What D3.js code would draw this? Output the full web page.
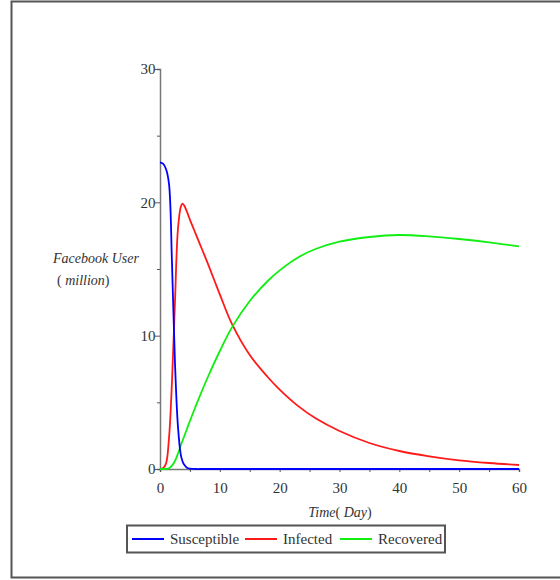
<!DOCTYPE html>
<meta charset="utf-8">
<style>
  html, body { margin: 0; background: #fff; overflow: hidden; }
  svg { display: block; }
  text { font-family: "Liberation Serif", "DejaVu Serif", serif; fill: #333; }
</style>
<svg width="560" height="580"></svg>
<script src="https://d3js.org/d3.v7.min.js"></script>
<script>

// time in days
var days = [0, 0.5, 1, 1.5, 2, 2.5, 3, 3.5, 3.75, 4, 4.5, 5, 6, 7, 8, 10, 12, 15, 18, 20, 23, 26, 30, 35, 40, 45, 50, 55, 60]

// million users
var susceptible = [23.0, 22.9, 22.5, 21.4, 15.5, 8.0, 3.2, 1.0, 0.6, 0.35, 0.1, 0.03, 0, 0, 0, 0, 0, 0, 0, 0, 0, 0, 0, 0, 0, 0, 0, 0, 0]
var infected    = [0, 0.05, 0.4, 2.3, 6.5, 12.5, 18.0, 19.7, 19.9, 19.8, 19.3, 18.7, 17.6, 16.5, 15.4, 13.1, 10.9, 8.55, 6.9, 5.95, 4.75, 3.8, 2.85, 1.95, 1.35, 0.95, 0.65, 0.45, 0.3]
var recovered   = [0, 0, 0, 0.05, 0.25, 0.6, 1.15, 1.8, 2.1, 2.4, 3.0, 3.6, 4.75, 5.85, 6.9, 8.85, 10.6, 12.6, 14.1, 14.9, 15.85, 16.5, 17.05, 17.4, 17.55, 17.45, 17.25, 17.0, 16.7]

var seriesNames = ['Susceptible', 'Infected', 'Recovered']
var seriesColors = ['#0000ff', '#ff1a1a', '#11ee11']

var svg = d3.select('svg')

// outer frame: top, left and bottom edges only
svg.append('path')
  .attr('d', 'M560,1.5H11.5V577.5H560')
  .attr('fill', 'none')
  .attr('stroke', '#555')
  .attr('stroke-width', 2)

var x = d3.scaleLinear().domain([0, 60]).range([160, 519])
var y = d3.scaleLinear().domain([0, 30]).range([469, 69])

// axes
var xAxis = svg.append('g')
  .attr('transform', 'translate(0,' + y(0) + ')')
  .call(d3.axisBottom(x).tickValues(d3.range(0, 61, 5)).tickSize(3)
    .tickFormat(function (d) { return d % 10 === 0 ? d : '' }))
var yAxis = svg.append('g')
  .attr('transform', 'translate(' + x(0) + ',0)')
  .call(d3.axisLeft(y).tickValues(d3.range(0, 31, 5)).tickSize(3)
    .tickFormat(function (d) { return d % 10 === 0 ? d : '' }))

;[xAxis, yAxis].forEach(function (a) {
  a.select('.domain').attr('stroke', '#777').attr('stroke-width', 1.5)
  a.selectAll('.tick line').attr('stroke', '#555')
  a.selectAll('text')
    .style('font-family', '"Liberation Serif", serif')
    .style('font-size', '15px')
    .attr('fill', '#333')
})
xAxis.selectAll('text').attr('dy', '1.2em')
yAxis.selectAll('.tick line').attr('x2', function (d) { return d % 10 === 0 ? -5 : -3 })
yAxis.selectAll('text').attr('dx', '0.1em')

// axis titles
var xt = svg.append('text')
  .attr('x', 340).attr('y', 517)
  .attr('text-anchor', 'middle')
  .style('font-size', '14px')
  .style('font-style', 'italic')
xt.append('tspan').text('Time')
xt.append('tspan').style('font-style', 'normal').text('( ')
xt.append('tspan').text('Day')
xt.append('tspan').style('font-style', 'normal').text(')')

svg.append('text')
  .attr('x', 53).attr('y', 263)
  .style('font-size', '14px')
  .style('font-style', 'italic')
  .text('Facebook User')
var yt = svg.append('text')
  .attr('x', 57).attr('y', 285)
  .style('font-size', '14px')
yt.append('tspan').text('( ')
yt.append('tspan').style('font-style', 'italic').text('million')
yt.append('tspan').text(')')

// curves
var allSeries = [susceptible, infected, recovered]
var line = d3.line()
  .x(function (d, i) { return x(days[i]) })
  .y(function (d) { return Math.min(y(d), y(0)) })
  .curve(d3.curveCatmullRom.alpha(0.5))

;[1, 2, 0].forEach(function (k) {
  svg.append('path')
    .datum(allSeries[k])
    .attr('d', line)
    .attr('fill', 'none')
    .attr('stroke', seriesColors[k])
    .attr('stroke-width', 1.8)
})

// legend
svg.append('rect')
  .attr('x', 127).attr('y', 525.5)
  .attr('width', 318).attr('height', 27)
  .attr('fill', '#fff')
  .attr('stroke', '#555')
  .attr('stroke-width', 2)

var legendX = [132, 245, 340]
seriesNames.forEach(function (name, k) {
  var g = svg.append('g').attr('transform', 'translate(' + legendX[k] + ',539)')
  g.append('line')
    .attr('x1', 0).attr('x2', 32)
    .attr('stroke', seriesColors[k])
    .attr('stroke-width', 2)
  g.append('text')
    .attr('x', 38).attr('y', 5)
    .style('font-size', '15px')
    .attr('fill', '#222')
    .text(name)
})
</script>
